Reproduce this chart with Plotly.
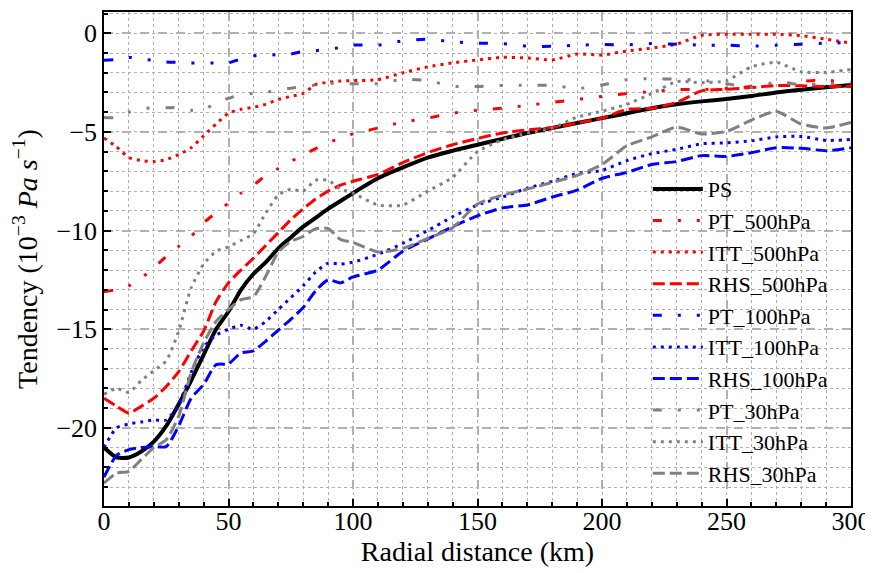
import plotly.graph_objects as go

radial_km = [0, 5, 10, 15, 20, 25, 30, 35, 40, 45, 50, 55, 60, 65, 70, 75, 80, 85, 90, 95, 100,
             110, 120, 130, 140, 150, 160, 170, 180, 190, 200, 210, 220, 230, 240, 250, 260, 270, 280, 290, 300]

ps = [-21.0, -21.5, -21.5, -21.2, -20.7, -19.9, -18.8, -17.6, -16.3, -15.0, -14.1, -13.0, -12.2, -11.6, -10.9, -10.35, -9.8, -9.35, -8.9, -8.5, -8.1,
      -7.35, -6.8, -6.3, -5.95, -5.65, -5.35, -5.05, -4.8, -4.55, -4.3, -4.05, -3.8, -3.6, -3.45, -3.33, -3.18, -3.0, -2.86, -2.73, -2.62]

pt_500 = [-13.1, -13.0, -12.8, -12.4, -11.9, -11.3, -10.8, -10.3, -9.6, -9.1, -8.6, -8.1, -7.7, -7.2, -6.85, -6.5, -6.15, -5.85, -5.55, -5.3, -5.1,
          -4.8, -4.5, -4.3, -4.05, -3.9, -3.8, -3.65, -3.5, -3.35, -3.2, -3.05, -2.95, -2.85, -2.85, -2.8, -2.7, -2.6, -2.45, -2.35, -2.65]

itt_500 = [-5.3, -5.75, -6.3, -6.45, -6.5, -6.4, -6.15, -5.8, -5.2, -4.6, -4.05, -3.85, -3.75, -3.6, -3.35, -3.2, -3.05, -2.6, -2.48, -2.42, -2.4,
           -2.35, -2.0, -1.7, -1.5, -1.35, -1.22, -1.25, -1.35, -1.05, -1.1, -0.9, -0.75, -0.55, -0.1, -0.05, -0.05, -0.05, -0.12, -0.3, -0.5]

rhs_500 = [-18.5, -18.9, -19.25, -18.9, -18.5, -17.9, -17.15, -16.1, -15.1, -13.6, -12.65, -12.0, -11.4, -10.75, -10.1, -9.45, -8.9, -8.4, -8.0, -7.7, -7.5,
           -7.15, -6.55, -6.05, -5.65, -5.33, -5.05, -4.9, -4.78, -4.55, -4.3, -3.85, -3.8, -3.5, -2.92, -2.84, -2.75, -2.65, -2.66, -2.7, -2.7]

pt_100 = [-1.37, -1.33, -1.22, -1.3, -1.37, -1.45, -1.47, -1.5, -1.5, -1.5, -1.5, -1.3, -1.15, -1.07, -1.1, -1.05, -0.92, -0.88, -0.8, -0.72, -0.6,
          -0.6, -0.38, -0.3, -0.43, -0.5, -0.52, -0.65, -0.66, -0.6, -0.57, -0.58, -0.52, -0.55, -0.6, -0.6, -0.65, -0.6, -0.55, -0.5, -0.47]

itt_100 = [-21.0, -20.0, -19.8, -19.7, -19.6, -19.6, -18.8, -17.2, -15.9, -15.3, -15.0, -14.8, -15.0, -14.6, -14.0, -13.4, -12.8, -12.1, -11.65, -11.7, -11.6,
           -11.2, -10.65, -10.0, -9.3, -8.7, -8.3, -7.85, -7.5, -7.1, -6.95, -6.45, -6.1, -5.88, -5.6, -5.55, -5.45, -5.25, -5.23, -5.43, -5.38]

rhs_100 = [-22.5, -21.4, -21.1, -21.0, -20.95, -20.95, -19.9, -18.5, -17.8, -16.8, -16.75, -16.2, -16.1, -15.6, -15.05, -14.5, -13.9, -13.05, -12.5, -12.65, -12.35,
           -12.0, -11.05, -10.43, -9.8, -9.25, -8.85, -8.7, -8.3, -7.95, -7.35, -7.05, -6.65, -6.5, -6.2, -6.24, -6.05, -5.8, -5.83, -5.95, -5.8]

pt_30 = [-4.27, -4.27, -4.0, -3.85, -3.75, -3.77, -3.77, -3.9, -3.9, -3.5, -3.3, -3.1, -3.05, -3.0, -2.85, -2.78, -2.7, -2.62, -2.54, -2.54, -2.56,
         -2.55, -2.33, -2.4, -2.68, -2.7, -2.64, -2.64, -2.64, -2.8, -2.62, -2.35, -2.3, -2.33, -2.38, -2.55, -2.75, -2.48, -2.6, -2.55, -2.5]

itt_30 = [-18.3, -18.0, -18.2, -17.6, -17.1, -16.6, -15.1, -12.9, -11.7, -11.05, -10.82, -10.5, -10.15, -9.1, -8.2, -7.9, -8.0, -7.45, -7.45, -7.9, -8.1,
          -8.7, -8.7, -8.0, -7.3, -6.0, -5.4, -5.05, -4.8, -4.25, -3.95, -3.6, -3.05, -2.45, -2.5, -2.4, -1.7, -1.47, -1.95, -1.98, -1.83]

rhs_30 = [-22.8, -22.3, -22.2, -21.6, -21.0, -20.6, -19.4, -17.2, -15.7, -14.6, -14.0, -13.5, -13.35, -12.3, -11.1, -10.55, -10.3, -9.9, -9.9, -10.45, -10.6,
          -11.08, -10.9, -10.4, -9.85, -8.65, -8.2, -7.9, -7.56, -7.2, -6.65, -5.7, -5.25, -4.75, -5.1, -4.97, -4.4, -3.96, -4.6, -4.8, -4.52]

x_ticks = [0, 50, 100, 150, 200, 250, 300]
y_ticks = [0, -5, -10, -15, -20]

DASHDOT = "9px,16px,3px,16px,3px,16px"
DOT = "3px,5px"
DASH = "12px,5px"

series = [
    ("PS", ps, "black", "solid", 4),
    ("PT_500hPa", pt_500, "#ff0000", DASHDOT, 3),
    ("ITT_500hPa", itt_500, "#ff0000", DOT, 3),
    ("RHS_500hPa", rhs_500, "#ff0000", DASH, 3),
    ("PT_100hPa", pt_100, "#0000ff", DASHDOT, 3),
    ("ITT_100hPa", itt_100, "#0000ff", DOT, 3),
    ("RHS_100hPa", rhs_100, "#0000ff", DASH, 3),
    ("PT_30hPa", pt_30, "#808080", DASHDOT, 3),
    ("ITT_30hPa", itt_30, "#808080", DOT, 3),
    ("RHS_30hPa", rhs_30, "#808080", DASH, 3),
]

fig = go.Figure()
for name, vals, color, dash, width in series:
    fig.add_trace(go.Scatter(x=radial_km, y=vals, name=name, mode="lines",
                             line=dict(color=color, dash=dash, width=width, shape="spline", smoothing=0.6)))

FONT = "'Liberation Serif', 'Times New Roman', 'DejaVu Serif', serif"
# page body adds an 8px offset, so the figure is 8px smaller than the window
fig.update_layout(
    width=865, height=565,
    margin=dict(l=96, r=22, t=4, b=67, autoexpand=False),
    plot_bgcolor="white", paper_bgcolor="white",
    font=dict(family=FONT, color="black", size=26),
    showlegend=True,
    legend=dict(x=0.728, y=0.684, xanchor="left", yanchor="top", itemwidth=50,
                bgcolor="rgba(0,0,0,0)", borderwidth=0,
                font=dict(family=FONT, size=22, color="black")),
)
fig.update_xaxes(
    range=[0, 300], tickvals=x_ticks, ticktext=[str(v) for v in x_ticks], automargin=False,
    ticks="inside", ticklen=7, tickwidth=1.5, tickcolor="black", ticklabelstandoff=-9,
    showline=True, linecolor="black", linewidth=1.5, mirror=True,
    showgrid=True, gridcolor="#b0b0b0", griddash="dash", gridwidth=1.5,
    zeroline=False,
    minor=dict(dtick=10, tick0=0, ticks="inside", ticklen=4, tickcolor="black",
               showgrid=True, gridcolor="#b0b0b0", griddash="dot", gridwidth=1),
    title=dict(text="Radial distance (km)", font=dict(size=28, family=FONT), standoff=0),
    tickfont=dict(size=26, family=FONT),
)
fig.update_yaxes(
    range=[-23.96, 1.08], tickvals=y_ticks, ticktext=[("−" + str(-v)) if v < 0 else str(v) for v in y_ticks],
    automargin=False,
    ticks="inside", ticklen=7, tickwidth=1.5, tickcolor="black",
    showline=True, linecolor="black", linewidth=1.5, mirror=True,
    showgrid=True, gridcolor="#b0b0b0", griddash="dash", gridwidth=1.5,
    zeroline=False,
    minor=dict(dtick=1, tick0=0, ticks="inside", ticklen=4, tickcolor="black",
               showgrid=True, gridcolor="#b0b0b0", griddash="dot", gridwidth=1),
    title=dict(text="Tendency (10<sup>−3</sup> <i>Pa s</i><sup>−1</sup>)", font=dict(size=28, family=FONT), standoff=18),
    tickfont=dict(size=26, family=FONT),
)
fig.write_html("out.html")
